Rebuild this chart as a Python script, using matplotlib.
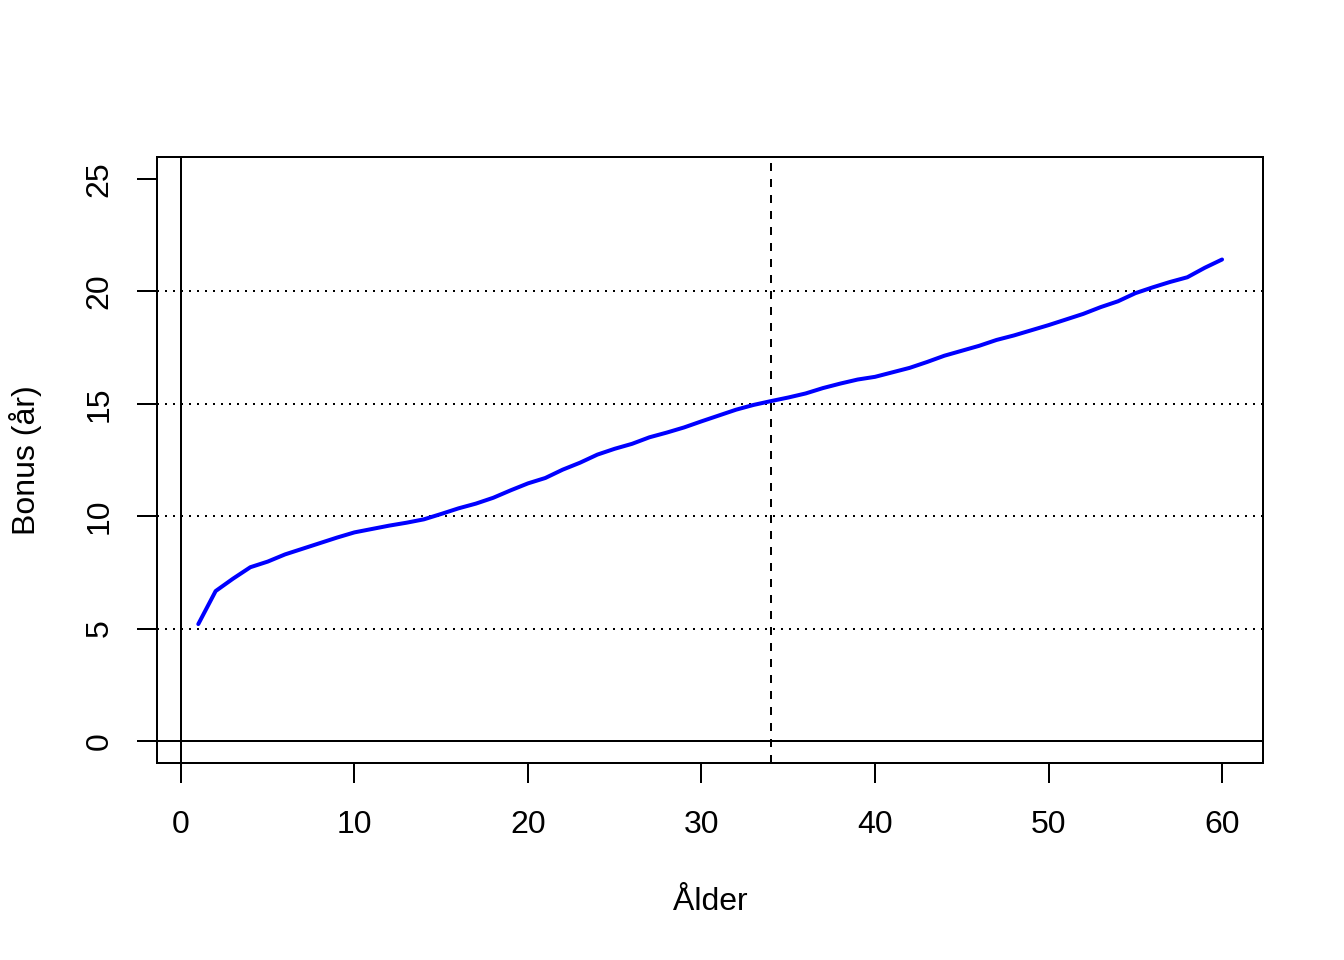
import numpy as np
import matplotlib
matplotlib.use('Agg')
import matplotlib.pyplot as plt

plt.rcParams['font.family'] = ['Liberation Sans', 'DejaVu Sans']

# Bonus per age:
alder = list(range(1, 61))
bonus = [5.20, 6.67, 7.22, 7.73, 7.98, 8.30, 8.55, 8.80, 9.05, 9.28,
         9.43, 9.58, 9.71, 9.86, 10.10, 10.35, 10.56, 10.82, 11.15, 11.46,
         11.70, 12.07, 12.38, 12.74, 13.00, 13.22, 13.51, 13.72, 13.95, 14.22,
         14.48, 14.74, 14.95, 15.12, 15.28, 15.46, 15.70, 15.90, 16.08, 16.20,
         16.40, 16.60, 16.86, 17.14, 17.36, 17.58, 17.84, 18.04, 18.27, 18.50,
         18.75, 19.00, 19.30, 19.56, 19.92, 20.18, 20.42, 20.63, 21.05, 21.42]
hlines = [5, 10, 15, 20]
vline = 34
xticks = [0, 10, 20, 30, 40, 50, 60]
yticks = [0, 5, 10, 15, 20, 25]

W, H = 1344, 960
fig = plt.figure(figsize=(7, 5), dpi=192)
ax = fig.add_axes([157 / W, 1 - 763 / H, (1263 - 157) / W, (763 - 157) / H])

lw = 0.75
for h in hlines:
    ax.axhline(h, color='black', lw=lw, linestyle=(0, (1, 3)))
ax.axhline(0, color='black', lw=lw)
ax.axvline(0, color='black', lw=lw)
ax.axvline(vline, color='black', lw=lw, linestyle=(0, (4, 4)))
ax.plot(alder, bonus, color='blue', lw=1.5, solid_capstyle='round')

ax.set_xlim(-1.38, 62.36)
ax.set_ylim(-0.98, 25.98)
ax.set_xticks(xticks)
ax.set_yticks(yticks)
ax.set_yticklabels([str(t) for t in yticks], rotation=90, va='center')
ax.tick_params(axis='both', length=7.5, width=lw, labelsize=12, direction='out')
ax.tick_params(axis='x', pad=10)
ax.tick_params(axis='y', pad=8.5)
for s in ax.spines.values():
    s.set_linewidth(lw)

fig.text(710 / W, 1 - 902 / H, 'Ålder', ha='center', va='center', fontsize=12)
fig.text(25 / W, 1 - 460 / H, 'Bonus (år)', ha='center', va='center',
         rotation=90, fontsize=12)

fig.savefig('out.png', dpi=192)
